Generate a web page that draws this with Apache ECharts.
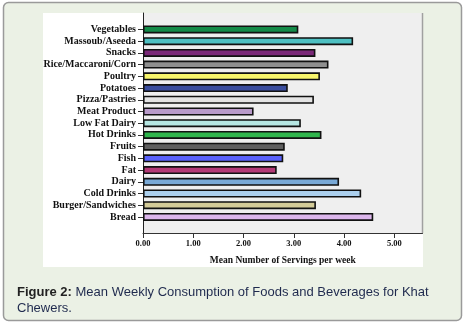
<!DOCTYPE html>
<html><head><meta charset="utf-8">
<script src="https://cdn.jsdelivr.net/npm/echarts@6/dist/echarts.min.js"></script>
<style>html,body{margin:0;padding:0;background:#fff}#c{width:465px;height:325px}</style>
</head><body><div id="c"></div>
<script>
const categories = ['Vegetables','Massoub/Aseeda','Snacks','Rice/Maccaroni/Corn','Poultry','Potatoes','Pizza/Pastries','Meat Product','Low Fat Dairy','Hot Drinks','Fruits','Fish','Fat','Dairy','Cold Drinks','Burger/Sandwiches','Bread'];
const values = [3.09, 4.18, 3.43, 3.69, 3.52, 2.88, 3.40, 2.20, 3.14, 3.55, 2.82, 2.79, 2.66, 3.90, 4.34, 3.44, 4.58];
const barColors = ['#138a48','#4ec0c2','#7a2878','#8f8f8f','#f8f66c','#3a4d9e','#e4e4e4','#b89ac9','#b6e6e2','#2fb54c','#5f5f5f','#5a62fc','#b43a76','#79a9d6','#acd0ee','#d3cb98','#dcb6ec'];
const xTicks = [0, 1, 2, 3, 4, 5];
const xTitle = 'Mean Number of Servings per week';
const captionBold = 'Figure 2:';
const captionRest = ' Mean Weekly Consumption of Foods and Beverages for Khat\nChewers.';

const chart = echarts.init(document.getElementById('c'), null, {renderer: 'canvas'});
const serif = 'Liberation Serif';
const capLines = captionRest.split('\n');
chart.setOption({
  animation: false,
  backgroundColor: '#fff',
  graphic: [
    {type: 'rect', z: -10, shape: {x: 3.5, y: 2.5, width: 458, height: 318, r: 5},
     style: {fill: '#ebf1e5', stroke: '#9a9a9a', lineWidth: 1.5}},
    {type: 'rect', z: -9, shape: {x: 43, y: 13, width: 380, height: 254},
     style: {fill: '#ffffff'}},
    {type: 'line', z: 5, shape: {x1: 422.5, y1: 13, x2: 422.5, y2: 233},
     style: {stroke: '#a0a0a0', lineWidth: 1.5}},
    {type: 'text', z: 5, x: 17, y: 284,
     style: {text: '{b|' + captionBold + '}{n|' + capLines[0] + '}\n{n|' + capLines[1] + '}',
       rich: {b: {fontFamily: 'Liberation Sans', fontSize: 13, fontWeight: 'bold', fill: '#222', lineHeight: 16.5},
              n: {fontFamily: 'Liberation Sans', fontSize: 13, fill: '#1f2a4e', lineHeight: 16.5}}}}
  ],
  grid: [
    {left: 143, top: 13, width: 279.5, height: 220, show: true, backgroundColor: '#efefef', borderWidth: 0},
    {left: 143, top: 23.6, width: 279.5, height: 199.2}
  ],
  xAxis: [
    {type: 'value', gridIndex: 0, min: 0, max: 5.56, interval: 1,
     axisLine: {show: true, lineStyle: {color: '#333', width: 1}},
     axisTick: {show: true, length: 5, customValues: xTicks, lineStyle: {color: '#333'}},
     axisLabel: {customValues: xTicks, formatter: v => v.toFixed(2), fontFamily: serif, fontWeight: 'bold', fontSize: 8.5, color: '#111', margin: 6},
     splitLine: {show: false},
     name: xTitle, nameLocation: 'middle', nameGap: 23,
     nameTextStyle: {fontFamily: serif, fontWeight: 'bold', fontSize: 9.5, color: '#111'}},
    {type: 'value', gridIndex: 1, min: 0, max: 5.56, show: false}
  ],
  yAxis: [
    {type: 'value', gridIndex: 0, min: 0, max: 1,
     axisLine: {show: true, lineStyle: {color: '#222', width: 1}},
     axisTick: {show: false}, axisLabel: {show: false}, splitLine: {show: false}},
    {type: 'category', gridIndex: 1, data: categories, inverse: true,
     axisLine: {show: false},
     axisTick: {show: true, alignWithLabel: true, interval: 0, length: 5, lineStyle: {color: '#333'}},
     axisLabel: {interval: 0, fontFamily: serif, fontWeight: 'bold', fontSize: 10, color: '#111', margin: 7}}
  ],
  series: [{
    type: 'bar', xAxisIndex: 1, yAxisIndex: 1, barWidth: 8,
    data: values.map((v, i) => ({value: v, itemStyle: {color: barColors[i]}})),
    itemStyle: {borderColor: '#111', borderWidth: 1.6}
  }]
});
</script></body></html>
